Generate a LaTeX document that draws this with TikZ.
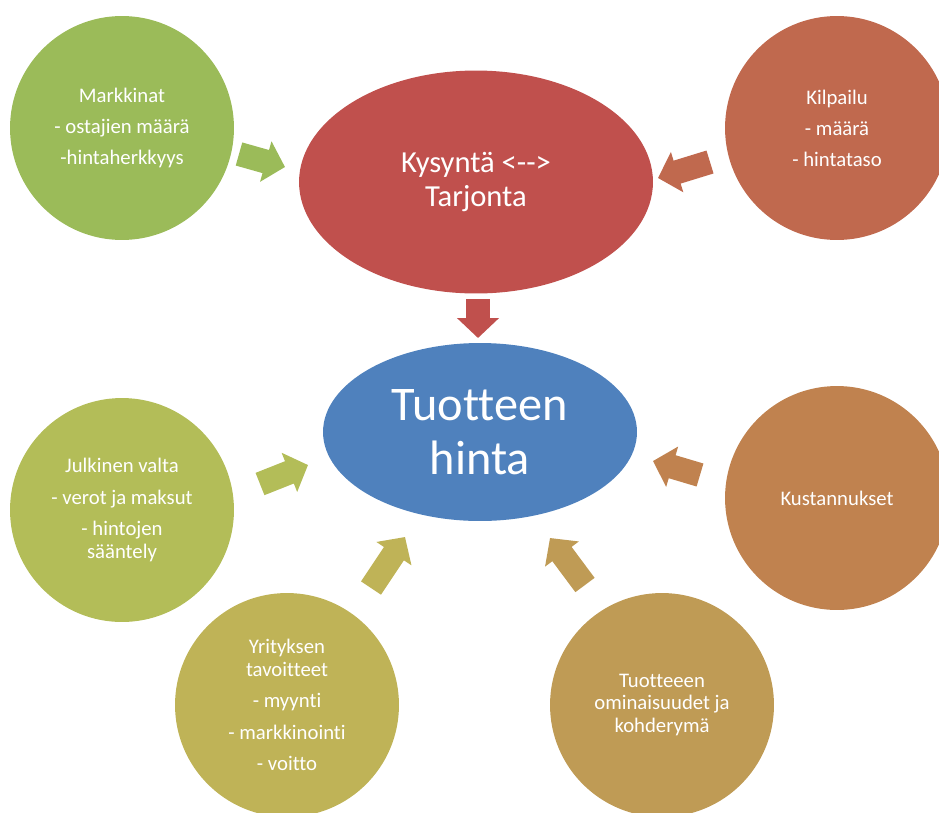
\documentclass[tikz,border=0pt]{standalone}
\usepackage{fontspec}
\setmainfont{Carlito}[Ligatures={NoCommon,NoContextual}, Contextuals=NoAlternate]
\usepackage{tikz}
\usetikzlibrary{positioning, arrows.meta, shapes.geometric}
\definecolor{markgreen}{HTML}{9BBB59}
\definecolor{kilpred}{HTML}{C0694E}
\definecolor{kysred}{HTML}{C0504D}
\definecolor{hintablue}{HTML}{4F81BD}
\definecolor{julkgreen}{HTML}{B3BD58}
\definecolor{kustorange}{HTML}{C0824F}
\definecolor{yritolive}{HTML}{BFB357}
\definecolor{ominbrown}{HTML}{BF9B55}

\begin{document}
\begin{tikzpicture}[
    x=0.02cm, y=-0.02cm,
    bubble/.style={circle, minimum size=4.48cm, inner sep=0pt, text=white, align=center, font=\fontsize{11.8}{13}\selectfont},
    bigbubble/.style={ellipse, inner sep=0pt, text=white, align=center, font=\fontsize{17.4}{19.8}\selectfont},
    hugebubble/.style={bigbubble, font=\fontsize{27.5}{31}\selectfont},
    barrow/.style={line width=0.48cm, -{Triangle[length=0.4cm, width=0.82cm]}}
]
\useasboundingbox (0,0) rectangle (939,812);
\clip (0,0) rectangle (939,812);

% Centre
\node[hugebubble, fill=hintablue, minimum width=6.28cm, minimum height=3.56cm] (hinta) at (480,432) {Tuotteen\\hinta};
\node[bigbubble, fill=kysred, minimum width=7.08cm, minimum height=4.46cm] (kys) at (476,182) {Kysyntä <\mbox{-}\mbox{-}>\\Tarjonta};

% Factors
\node[bubble, fill=markgreen] (mark) at (122,128)
    {Markkinat\\[4.6pt] - ostajien määrä\\[4.6pt] -hintaherkkyys};
\node[bubble, fill=kilpred] (kilp) at (837,128)
    {Kilpailu\\[4.6pt] - määrä\\[4.6pt] - hintataso};
\node[bubble, fill=julkgreen] (julk) at (122,510)
    {Julkinen valta\\[5pt] - verot ja maksut\\[5pt] - hintojen\\sääntely};
\node[bubble, fill=kustorange] (kust) at (837,498)
    {Kustannukset};
\node[bubble, fill=yritolive] (yrit) at (287,705)
    {Yrityksen\\tavoitteet\\[5pt] - myynti\\[5pt] - markkinointi\\[5pt] - voitto};
\node[bubble, fill=ominbrown] (omin) at (662,705)
    {Tuotteeen\\ominaisuudet ja\\kohderymä};

% Arrow ends
\coordinate (t1) at (239,154); \coordinate (h1) at (285,167);
\coordinate (t2) at (710,162); \coordinate (h2) at (658,178);
\coordinate (t3) at (260,484); \coordinate (h3) at (308,465);
\coordinate (t4) at (700,475); \coordinate (h4) at (653,461);
\coordinate (t5) at (371,588); \coordinate (h5) at (405,537);
\coordinate (t6) at (585,585); \coordinate (h6) at (550,538);
\coordinate (t7) at (478,299); \coordinate (h7) at (478,338);

% Arrows
\draw[barrow, markgreen] (t1) -- (h1);
\draw[barrow, kilpred] (t2) -- (h2);
\draw[barrow, julkgreen] (t3) -- (h3);
\draw[barrow, kustorange] (t4) -- (h4);
\draw[barrow, yritolive] (t5) -- (h5);
\draw[barrow, ominbrown] (t6) -- (h6);
\draw[barrow, kysred] (t7) -- (h7);
\end{tikzpicture}
\end{document}
